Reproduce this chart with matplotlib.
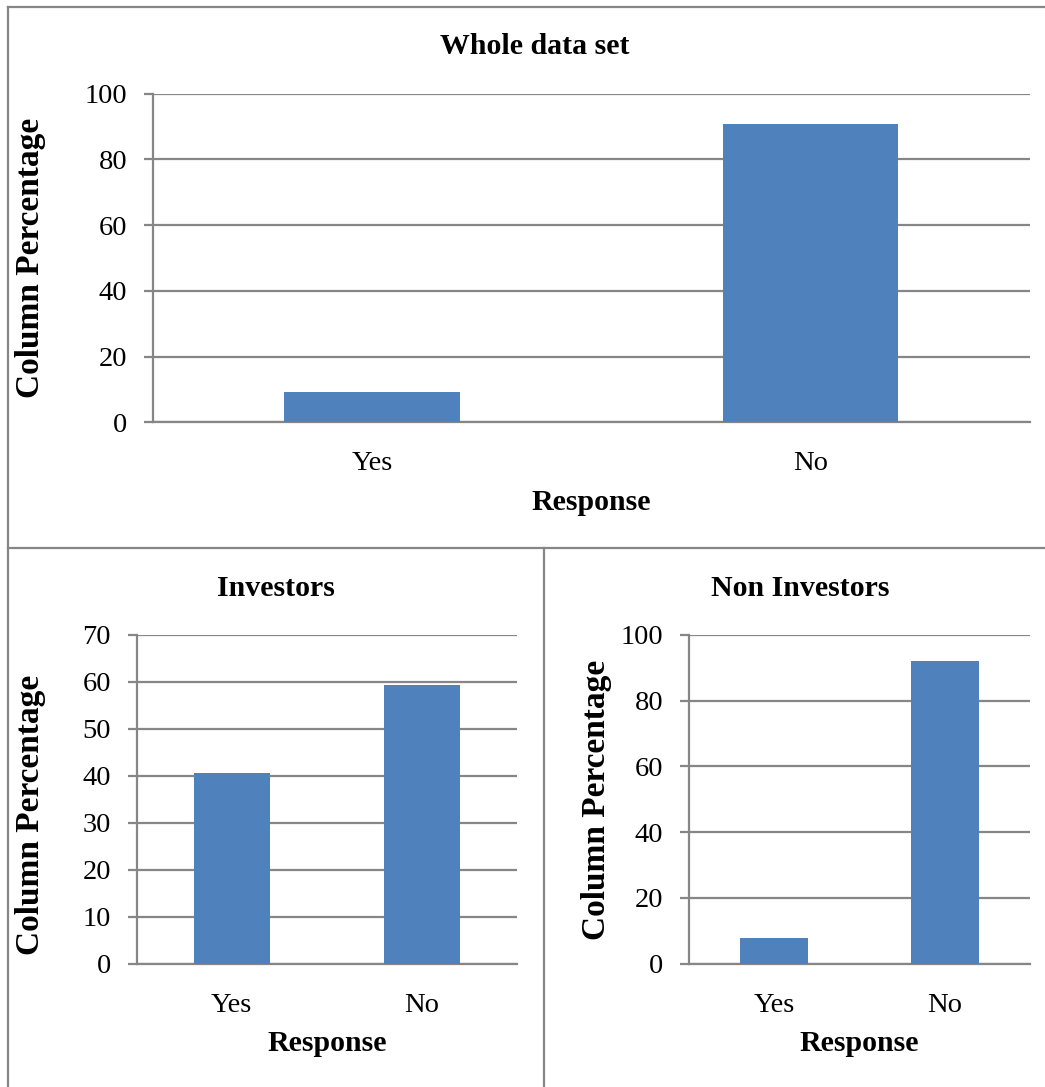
import matplotlib.pyplot as plt
from matplotlib.lines import Line2D

# response shares (column percentages)
responses = ['Yes', 'No']
whole_pct = [9.2, 90.8]
investor_pct = [40.7, 59.3]
noninvestor_pct = [7.9, 92.1]

BAR = '#4F81BD'
GRID = '#868686'
W, H = 1045, 1087

plt.rcParams['font.family'] = ['Liberation Serif', 'DejaVu Serif']

fig = plt.figure(figsize=(W / 100, H / 100), dpi=100)


def px_axes(l, r, t, b):
    # axes box from pixel edges
    return fig.add_axes([l / W, 1 - b / H, (r - l) / W, (b - t) / H])


def drawBars(ax, vals, ymax, step):
    ax.bar(range(len(vals)), vals, width=0.4, color=BAR, zorder=3)
    ax.set_xlim(-0.5, len(vals) - 0.5)
    ax.set_ylim(0, ymax)
    ax.set_yticks(range(0, ymax + 1, step))
    ax.set_xticks(range(len(vals)))
    ax.set_xticklabels(responses)
    ax.yaxis.grid(True, color=GRID, linewidth=1.6, zorder=0)
    for s in ['top', 'right']:
        ax.spines[s].set_visible(False)
    for s in ['left', 'bottom']:
        ax.spines[s].set_color(GRID)
        ax.spines[s].set_linewidth(1.6)
    ax.tick_params(axis='y', length=6.5, width=1.6, color=GRID, pad=12, labelsize=20.5)
    ax.tick_params(axis='x', length=0, pad=21, labelsize=20.5)
    ax.set_xlabel('Response', fontsize=21.5, fontweight='bold', labelpad=9)


ax1 = px_axes(152.7, 1030, 93.7, 422.3)
drawBars(ax1, whole_pct, 100, 20)
ax2 = px_axes(136.7, 516.7, 635, 963.7)
drawBars(ax2, investor_pct, 70, 10)
ax3 = px_axes(689, 1030, 635, 963.7)
drawBars(ax3, noninvestor_pct, 100, 20)

# panel titles and y labels
fig.text(535 / W, 1 - 47 / H, 'Whole data set', ha='center', va='center', fontsize=21.5, fontweight='bold')
fig.text(276 / W, 1 - 588 / H, 'Investors', ha='center', va='center', fontsize=21.5, fontweight='bold')
fig.text(800 / W, 1 - 588 / H, 'Non Investors', ha='center', va='center', fontsize=21.5, fontweight='bold')
for x, y in [(31, 258), (31, 815), (597, 800)]:
    fig.text(x / W, 1 - y / H, 'Column Percentage', ha='center', va='center',
             rotation=90, fontsize=24, fontweight='bold')

# frame lines around the panels
def frameLine(xs, ys):
    fig.add_artist(Line2D([x / W for x in xs], [1 - y / H for y in ys],
                          color=GRID, linewidth=1.6))

frameLine([8, 1044], [7, 7])
frameLine([8, 8], [7, 1087])
frameLine([8, 1045], [548, 548])
frameLine([544, 544], [548, 1087])

fig.savefig('out.png', dpi=100)
